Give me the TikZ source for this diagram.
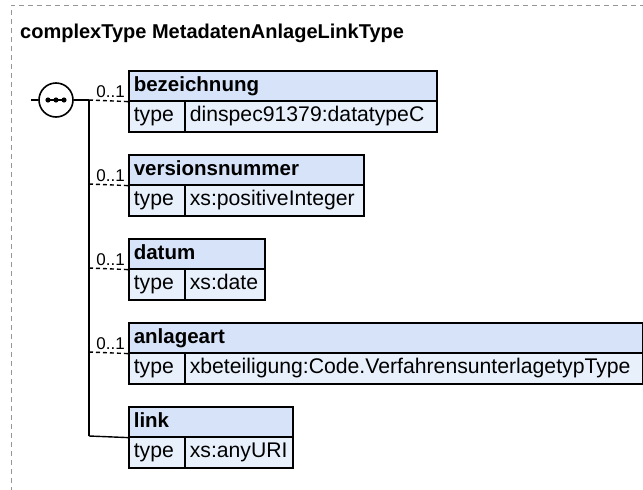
\documentclass[tikz,border=0pt]{standalone}
\usepackage{fontspec}
\setmainfont{Liberation Sans}
\usetikzlibrary{calc}
\definecolor{hdrfill}{RGB}{214,227,248}
\definecolor{rowfill}{RGB}{232,240,252}
\definecolor{framegray}{RGB}{150,150,150}
\tikzset{
  cell/.style={draw=black, line width=1.6pt, anchor=north west, inner xsep=5pt, inner ysep=0pt,
    text height=15pt, text depth=4pt, align=left},
  hdrbox/.style={cell, fill=hdrfill, minimum height=30pt, font=\fontsize{20.5}{24}\selectfont\bfseries},
  rowbox/.style={cell, fill=rowfill, minimum height=31pt, font=\fontsize{21.2}{24}\selectfont},
  card/.style={inner sep=0pt, anchor=base east, font=\fontsize{17}{20}\selectfont},
  conn/.style={line width=1.4pt},
  optconn/.style={line width=1.4pt, dash pattern=on 4pt off 3pt},
  frameline/.style={draw=framegray, line width=1pt, dash pattern=on 5pt off 4pt},
}
\newcommand\xelem[6]{% name, divider y, header width, value width, header, value
  \node[hdrbox, text width=#3pt-10pt] (h#1) at (128,#2-30) {\mbox{#5}};
  \node[rowbox, text width=46pt] (t#1) at (128,#2) {\mbox{type}};
  \node[rowbox, text width=#4pt-10pt] (v#1) at (184,#2) {\mbox{#6}};
}
\begin{document}
\begin{tikzpicture}[x=1pt,y=-1pt]
\useasboundingbox (0,0) rectangle (643,490);
\draw[frameline] (11,492) -- (11,5) -- (645,5);
\node[inner sep=0pt, anchor=base west, font=\fontsize{20}{24}\selectfont\bfseries] (title) at (20,38) {complexType MetadatenAnlageLinkType};

\xelem{1}{100}{308}{252}{bezeichnung}{dinspec91379:datatypeC}
\xelem{2}{184}{235}{179}{versionsnummer}{xs:positiveInteger}
\xelem{3}{268}{136}{80}{datum}{xs:date}
\xelem{4}{352}{514}{458}{anlageart}{xbeteiligung:Code.VerfahrensunterlagetypType}
\xelem{5}{436}{164}{108}{link}{xs:anyURI}

\node[circle, draw, line width=1.6pt, fill=white, minimum size=34pt, inner sep=0pt] (seq) at (56,100) {};
\draw[line width=1.2pt] ($(seq.center)+(-9,0)$) -- ($(seq.center)+(9,0)$);
\fill ($(seq.center)+(-8,0)$) circle (2.6);
\fill (seq.center) circle (2.6);
\fill ($(seq.center)+(8,0)$) circle (2.6);

\coordinate (in) at (31,100);
\coordinate (j1) at (89,100);
\coordinate (j2) at (89,184);
\coordinate (j3) at (89,268);
\coordinate (j4) at (89,352);
\coordinate (j5) at (89,436);
\draw[conn] (in) -- (seq.west);
\draw[conn] (seq.east) -- (j1);
\draw[conn] (j1) -- (j5);
\draw[optconn] (j1) -- (h1.south west);
\draw[optconn] (j2) -- (h2.south west);
\draw[optconn] (j3) -- (h3.south west);
\draw[optconn] (j4) -- (h4.south west);
\draw[conn] (j5) -- (h5.south west);
\node[card] (c1) at ($(h1.south west)+(-3,-4)$) {0..1};
\node[card] (c2) at ($(h2.south west)+(-3,-4)$) {0..1};
\node[card] (c3) at ($(h3.south west)+(-3,-4)$) {0..1};
\node[card] (c4) at ($(h4.south west)+(-3,-4)$) {0..1};
\end{tikzpicture}
\end{document}
